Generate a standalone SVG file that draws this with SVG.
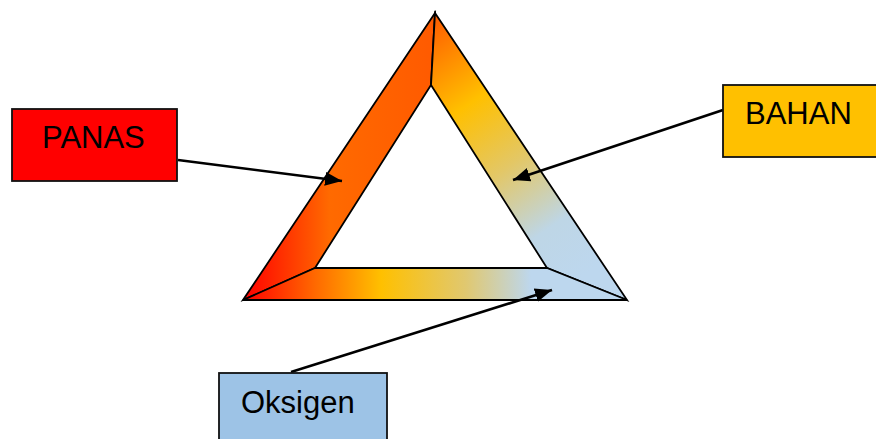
<svg xmlns="http://www.w3.org/2000/svg" width="876" height="439" viewBox="0 0 876 439">
<style>
.box{stroke:#111;stroke-width:1.8}
.lbl{font-family:"Liberation Sans",Arial,sans-serif;font-size:31px;fill:#000}
.face{stroke:#000;stroke-width:1.8;stroke-linejoin:miter}
.conn{stroke:#000;stroke-width:2.6;fill:none}
</style>
<defs>
<linearGradient id="gL" gradientUnits="userSpaceOnUse" x1="243" y1="0" x2="435" y2="0">
<stop offset="0" stop-color="#FF0000"/>
<stop offset="0.45" stop-color="#FF6A00"/>
<stop offset="1" stop-color="#FF5A00"/>
</linearGradient>
<linearGradient id="gR" gradientUnits="userSpaceOnUse" x1="435" y1="20" x2="600" y2="265">
<stop offset="0" stop-color="#FF6000"/>
<stop offset="0.3" stop-color="#FFC000"/>
<stop offset="0.55" stop-color="#E3C766"/>
<stop offset="0.8" stop-color="#BED6E6"/>
<stop offset="1" stop-color="#BDD7EE"/>
</linearGradient>
<linearGradient id="gB" gradientUnits="userSpaceOnUse" x1="243" y1="0" x2="627" y2="0">
<stop offset="0" stop-color="#FF0000"/>
<stop offset="0.19" stop-color="#FF6A00"/>
<stop offset="0.36" stop-color="#FFC000"/>
<stop offset="0.58" stop-color="#E0C870"/>
<stop offset="0.75" stop-color="#BDD7EE"/>
<stop offset="1" stop-color="#BDD7EE"/>
</linearGradient>
<marker id="ah" markerUnits="userSpaceOnUse" markerWidth="20" markerHeight="16" refX="17" refY="8" orient="auto">
<path d="M0,1 L17,8 L0,15 Z" fill="#000"/>
</marker>
</defs>
<g id="triangle">
<polygon class="face" fill="url(#gL)" points="435,13 243,300 315,268 431,85"/>
<polygon class="face" fill="url(#gR)" points="435,13 627,300 547,268 431,85"/>
<polygon class="face" fill="url(#gB)" points="243,300 315,268 547,268 627,300"/>
</g>
<g id="connectors">
<line class="conn" x1="178" y1="160" x2="342" y2="181" marker-end="url(#ah)"/>
<line class="conn" x1="723" y1="110" x2="513" y2="180" marker-end="url(#ah)"/>
<line class="conn" x1="291" y1="372" x2="552" y2="290" marker-end="url(#ah)"/>
</g>
<g id="panas">
<rect class="box" x="12" y="109" width="165" height="72" fill="#FF0000"/>
<text class="lbl" x="42" y="148">PANAS</text>
</g>
<g id="bahan">
<rect class="box" x="723" y="85" width="170" height="72" fill="#FFC000"/>
<text class="lbl" x="745" y="124">BAHAN</text>
</g>
<g id="oksigen">
<rect class="box" x="219" y="373" width="168" height="80" fill="#9DC3E6"/>
<text class="lbl" x="241" y="413">Oksigen</text>
</g>
</svg>
